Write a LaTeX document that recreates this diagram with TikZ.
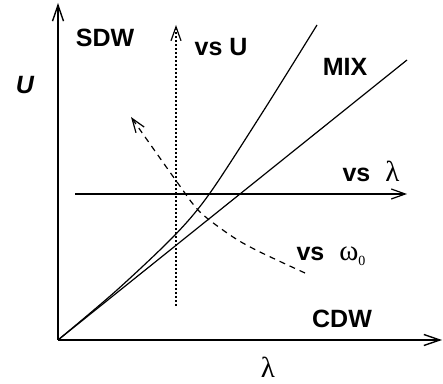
\documentclass[tikz,border=0pt]{standalone}
\usepackage{fontspec}
\setmainfont{Liberation Sans}
\newfontfamily\grk{Liberation Serif}
\usetikzlibrary{arrows.meta}

\tikzset{
  axis/.style={line width=1pt, -{Straight Barb[length=8pt,width=5.5pt,line width=0.7pt]}},
  sweep/.style={line width=0.6pt, -{Straight Barb[length=7pt,width=5pt,line width=0.6pt]}},
  border/.style={line width=0.6pt},
  phase/.style={font=\fontsize{12.5}{14}\selectfont\bfseries},
  greek/.style={font=\fontsize{14.5}{16}\grk}
}

\begin{document}
\begin{tikzpicture}[x=10pt,y=10pt]
  \useasboundingbox (-2.9,-2.2) rectangle (19.25,17);

  % Axes
  \coordinate (O) at (0,0);
  \coordinate (ytop) at (0,16.85);
  \coordinate (xend) at (19.2,0);
  \draw [axis] (O) -- (ytop);
  \draw [axis] (O) -- (xend);

  % Phase boundaries
  \coordinate (lowend) at (17.45,14);
  \draw [border] (O) -- (lowend);
  \draw [border] plot [smooth, tension=0.5] coordinates {(0,0) (2.95,2.5) (5.85,5.25) (7.6,7.35) (10.3,11.5) (12.95,15.75)};

  % Sweep directions
  \coordinate (lstart) at (0.85,7.3);
  \coordinate (lend) at (17.45,7.3);
  \draw [sweep] (lstart) -- (lend);
  \coordinate (ustart) at (5.9,1.7);
  \coordinate (uend) at (5.9,15.75);
  \draw [sweep, dash pattern=on 1pt off 1pt] (ustart) -- (uend);
  \draw [sweep, dash pattern=on 3pt off 2.5pt] plot [smooth] coordinates {(12.35,3.35) (10.1,4.4) (8.75,5.15) (7.1,6.4) (5.95,7.9) (3.65,11.15)};

  % Labels
  \node [phase] (sdw) at (2.35,15.1) {SDW};
  \node [phase] (mix) at (14.35,13.65) {MIX};
  \node [phase] (cdw) at (14.2,1.05) {CDW};
  \node [phase, font=\fontsize{12.5}{14}\selectfont\bfseries\itshape] (ulab) at (-1.65,12.75) {U};
  \node [greek] (llab) at (10.5,-1.35) {λ};
  \node [phase] (vsu) at (8.15,14.65) {vs U};
  \node [phase] (vsl) at (15.65,8.45) {vs\hspace{0.6em}{\grk\fontsize{14.5}{16}\selectfont\mdseries λ}};
  \node [phase] (vsw) at (13.65,4.2) {vs\hspace{0.6em}{\grk\fontsize{14.5}{16}\selectfont\mdseries ω\raisebox{-0.35ex}{\fontsize{7}{8}\selectfont 0}}};
\end{tikzpicture}
\end{document}
